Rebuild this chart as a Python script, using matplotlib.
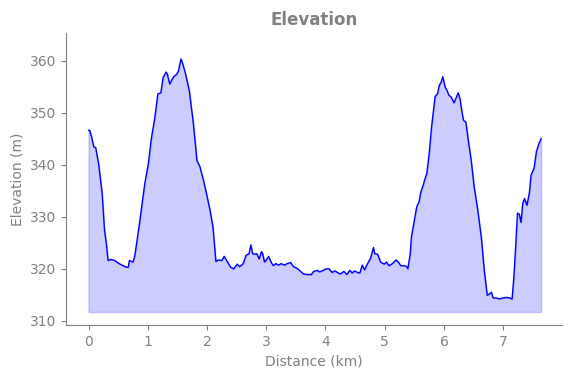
import matplotlib
matplotlib.use("Agg")
import matplotlib.pyplot as plt
import numpy as np

distance_km = [0.00, 0.02, 0.05, 0.09, 0.12, 0.17, 0.23, 0.27, 0.30, 0.33, 0.38, 0.44, 0.53, 0.64, 0.67,
               0.69, 0.75, 0.78, 0.86, 0.95, 1.01, 1.06, 1.12, 1.17, 1.22, 1.26, 1.31, 1.33, 1.37, 1.43,
               1.49, 1.52, 1.56, 1.59, 1.63, 1.70, 1.77, 1.83, 1.88, 1.94, 1.99, 2.05, 2.10, 2.15, 2.19,
               2.25, 2.29, 2.33, 2.40, 2.45, 2.49, 2.51, 2.55, 2.61, 2.66, 2.71, 2.74, 2.77, 2.81, 2.84,
               2.88, 2.92, 2.94, 2.97, 3.00, 3.04, 3.08, 3.12, 3.16, 3.21, 3.25, 3.31, 3.35, 3.41, 3.46,
               3.52, 3.58, 3.63, 3.69, 3.76, 3.80, 3.86, 3.90, 3.96, 4.01, 4.06, 4.11, 4.16, 4.20, 4.25,
               4.31, 4.36, 4.41, 4.45, 4.49, 4.54, 4.58, 4.62, 4.66, 4.71, 4.76, 4.81, 4.83, 4.88, 4.93,
               4.99, 5.03, 5.07, 5.13, 5.19, 5.23, 5.27, 5.33, 5.37, 5.39, 5.43, 5.45, 5.50, 5.54, 5.58,
               5.61, 5.65, 5.68, 5.71, 5.75, 5.79, 5.83, 5.85, 5.89, 5.92, 5.95, 5.98, 6.02, 6.05, 6.08,
               6.12, 6.17, 6.21, 6.24, 6.27, 6.30, 6.33, 6.37, 6.41, 6.46, 6.51, 6.57, 6.63, 6.68, 6.73,
               6.77, 6.80, 6.83, 6.88, 6.94, 6.99, 7.05, 7.11, 7.15, 7.18, 7.21, 7.24, 7.27, 7.30, 7.33,
               7.36, 7.40, 7.44, 7.47, 7.52, 7.56, 7.60, 7.64]

elevation_m = [346.6, 346.6, 345.4, 343.4, 343.3, 340.2, 334.5, 327.4, 324.9, 321.6, 321.8, 321.6, 320.9, 320.3, 320.3,
               321.6, 321.3, 322.4, 328.7, 336.4, 340.2, 345.0, 349.1, 353.6, 353.8, 356.8, 357.8, 357.4, 355.5, 356.8,
               357.4, 358.1, 360.3, 359.4, 357.8, 354.3, 347.9, 340.8, 339.6, 337.0, 334.5, 331.3, 328.1, 321.4, 321.7,
               321.6, 322.4, 321.6, 320.3, 320.0, 320.6, 320.9, 320.4, 321.0, 322.6, 322.9, 324.6, 322.9, 322.8, 322.9,
               321.9, 323.3, 322.9, 321.3, 321.7, 322.4, 321.3, 320.6, 321.0, 320.7, 321.0, 320.7, 321.0, 321.2, 320.4,
               320.1, 319.5, 319.0, 318.9, 318.9, 319.5, 319.7, 319.4, 319.7, 320.0, 320.0, 319.3, 319.6, 319.3, 319.0,
               319.5, 318.9, 319.7, 319.2, 319.6, 319.3, 319.2, 320.7, 319.8, 321.0, 322.0, 324.1, 322.9, 322.8, 321.3,
               320.9, 321.3, 320.6, 321.0, 321.7, 321.3, 320.6, 320.6, 320.4, 320.0, 322.9, 326.1, 329.3, 331.9, 332.9,
               334.8, 336.1, 337.3, 338.3, 342.1, 347.2, 351.1, 353.1, 353.6, 355.2, 355.8, 356.9, 354.9, 354.3, 353.4,
               353.0, 351.9, 353.0, 353.8, 352.7, 350.4, 348.5, 348.2, 344.7, 340.8, 335.7, 331.3, 326.1, 319.7, 314.9,
               315.2, 315.5, 314.4, 314.4, 314.2, 314.4, 314.5, 314.4, 314.2, 318.5, 324.2, 330.7, 330.5, 328.9, 332.6,
               333.5, 332.2, 334.5, 338.0, 339.3, 342.5, 344.0, 345.0]

x_ticks = [0, 1, 2, 3, 4, 5, 6, 7]

x = np.array(distance_km)
y = np.array(elevation_m)

fig = plt.figure(figsize=(5.71, 3.78), dpi=100)
ax = fig.add_axes([0.1156, 0.1402, 0.8684, 0.7725])

base = y.min() - 2.5
ax.fill_between(x, y, base, color="blue", alpha=0.2)
ax.plot(x, y, color="blue", linewidth=1)

ax.set_ylim(y.min() - 5, y.max() + 5)
ax.set_xlim(-0.38, 7.99)
ax.set_xticks(x_ticks)
ax.set_title("Elevation", fontsize=12, fontweight="bold", color="gray")
ax.set_xlabel("Distance (km)", color="gray")
ax.set_ylabel("Elevation (m)", color="gray")
ax.spines["top"].set_visible(False)
ax.spines["right"].set_visible(False)
for s in ("left", "bottom"):
    ax.spines[s].set_color("gray")
ax.tick_params(colors="gray", labelcolor="gray")

fig.savefig("out.png", dpi=100)
